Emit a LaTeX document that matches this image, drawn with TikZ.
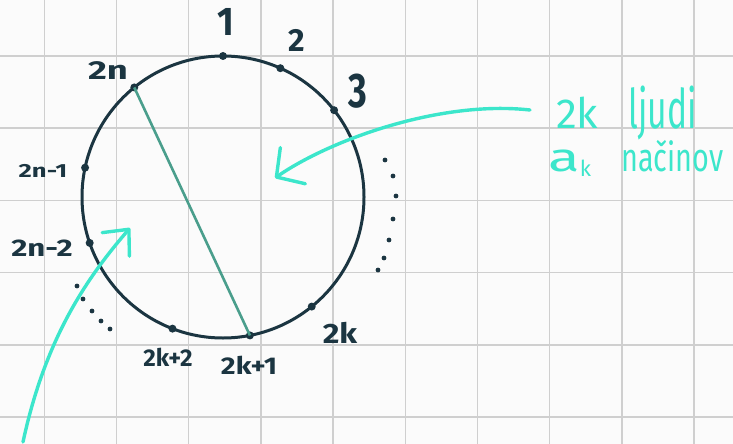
\documentclass[tikz,border=0pt]{standalone}
\usepackage{fontspec}
\setmainfont{Fira Sans}
\usetikzlibrary{arrows.meta}
\definecolor{ink}{HTML}{1B3541}
\definecolor{chordc}{HTML}{4A9E8C}
\definecolor{cyanh}{HTML}{3CE6CB}
\definecolor{gridc}{HTML}{CFCFCF}
\definecolor{paper}{HTML}{FBFBFB}
\newcommand{\fsz}[1]{\fontsize{#1}{#1}\selectfont}
\tikzset{
  gridline/.style={draw=gridc,line width=1.5pt},
  pdot/.style={circle,fill=ink,inner sep=0pt,minimum size=8pt},
  edot/.style={fill=ink},
  lab/.style={text=ink,inner sep=0pt},
  hand/.style={text=cyanh,inner sep=0pt,anchor=base west},
  cyanarrow/.style={draw=cyanh,line width=3.4pt,line cap=round,line join=round},
  chord/.style={draw=chordc,line width=2.6pt}
}
\begin{document}
\begin{tikzpicture}[x=1pt,y=-1pt]
\fill[paper] (0,0) rectangle (733,444);
\useasboundingbox (0,0) rectangle (733,444);
% grid
\foreach \i in {0,...,9} \draw[gridline] ({44.3+72.2*\i},0) -- ++(0,444);
\foreach \j in {0,...,5} \draw[gridline] (0,{56+72.2*\j}) -- ++(733,0);
% circle
\node[circle,draw=ink,line width=3pt,minimum size=282pt,inner sep=0pt,outer sep=0pt] (C) at (223,197) {};
% points
\node[pdot] (p1) at (C.90) {};
\node[pdot] (p2) at (C.66) {};
\node[pdot] (p3) at (C.38.6) {};
\node[pdot] (p2k) at (C.-51) {};
\node[pdot] (p2k1) at (C.-79) {};
\node[pdot] (p2k2) at (C.-111) {};
\node[pdot] (p2n2) at (C.199) {};
\node[pdot] (p2n1) at (C.168) {};
\node[pdot] (p2n) at (C.129.5) {};
% chord
\draw[chord] (p2n.center) -- (p2k1.center);
% labels
\node[lab,font=\bfseries\fsz{40}] (l1) at (226,22) {\scalebox{0.9}[1]{1}};
\node[lab,font=\bfseries\fsz{32}] (l2) at (297,40) {2};
\node[lab,font=\bfseries\fsz{36}] (l3) at (358,91) {\scalebox{1}[1.35]{3}};
\node[lab,font=\bfseries\fsz{26}] (l2n) at (108,71) {\scalebox{1.4}[1]{2n}};
\node[lab,font=\bfseries\fsz{19}] (l2n1) at (43,171) {\scalebox{1.35}[1]{2n-1}};
\node[lab,font=\bfseries\fsz{24}] (l2n2) at (42,248) {\scalebox{1.3}[1]{2n-2}};
\node[lab,font=\bfseries\fsz{28}] (l2k) at (340,333) {\scalebox{1.15}[1]{2k}};
\node[lab,font=\bfseries\fsz{22}] (l2k2) at (168,357) {\scalebox{1.1}[1.1]{2k+2}};
\node[lab,font=\bfseries\fsz{22}] (l2k1) at (249,365) {\scalebox{1.3}[1.1]{2k+1}};
% ellipsis dots
\foreach \p in {(385,160),(393,176),(396,196),(393,219),(389,240),(384,258),(378,270),
                (77,286),(83,299),(92,311),(101,321),(110,329)}
  \fill[edot] \p circle (2.4pt);
% cyan text
\node[hand,font=\fsz{42}] (t1) at (556,128) {\makebox[72pt][l]{2k}\scalebox{0.8}[1.3]{ljudi}};
\node[hand,font=\fsz{36}] (t2) at (548,171) {\makebox[73pt][l]{\scalebox{1.45}[1]{\fsz{40}a}\raisebox{-0.3ex}{\fsz{22}k}}\scalebox{0.8}[1.1]{načinov}};
% arrows
\coordinate (a1s) at (530,110);
\coordinate (a1e) at (275,178);
\coordinate (a2s) at (23,442);
\coordinate (a2e) at (130,228);
\draw[cyanarrow,-{Straight Barb[length=20pt,width=44pt,line cap=round,line join=round]}]
  (a1s) .. controls (440,100) and (330,140) .. (a1e);
\draw[cyanarrow,-{Straight Barb[length=20pt,width=36pt,line cap=round,line join=round]}]
  (a2s) .. controls (45,340) and (85,280) .. (a2e);
\end{tikzpicture}
\end{document}
